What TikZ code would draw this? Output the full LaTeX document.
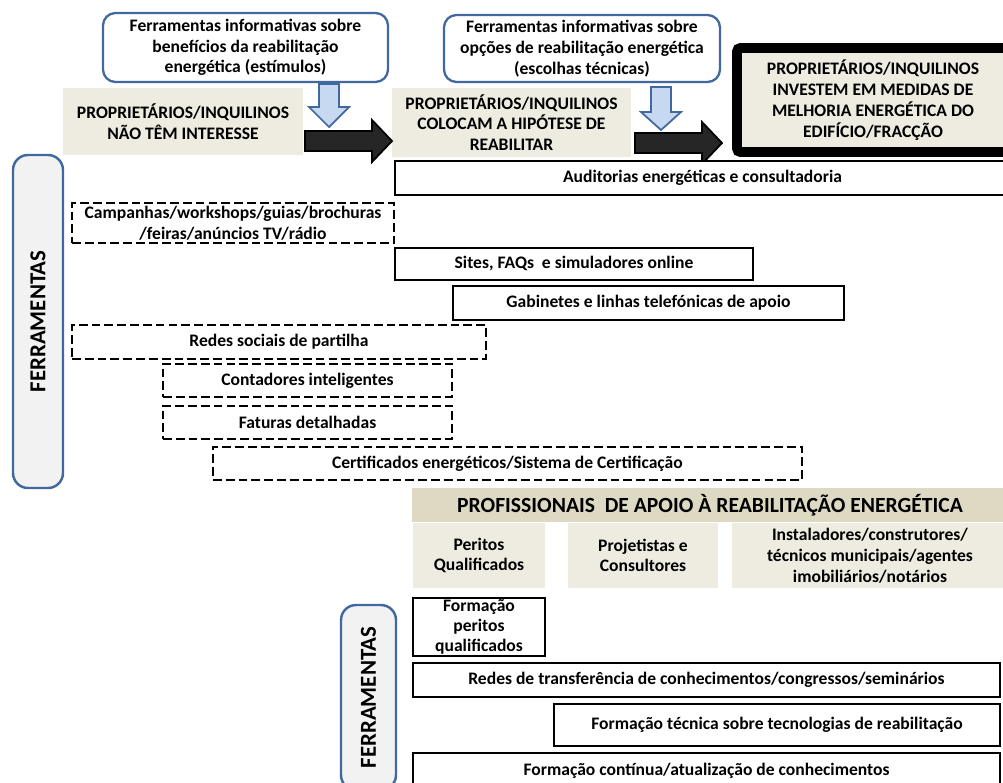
\documentclass[tikz,border=0pt]{standalone}
\usepackage{fontspec}
\setmainfont{Carlito}
\usetikzlibrary{positioning}
\definecolor{beige}{HTML}{EEECE1}
\definecolor{darkbeige}{HTML}{DDD9C3}
\definecolor{boxblue}{RGB}{65,105,160}
\definecolor{lightblue}{HTML}{C6D9F1}
\definecolor{bargray}{HTML}{F2F2F2}
\definecolor{arrowblack}{HTML}{262626}
\newcommand{\pxbox}[7]{ % Takes name, style, left, top, right, bottom (in pixels), text as arguments
    \node[#2, minimum width={(#5-#3)*0.02cm}, minimum height={(#6-#4)*0.02cm}] (#1) at ({(#3+#5)/2}, {(#4+#6)/2}) {#7};
}
\newcommand{\downblockarrow}[4]{ % Takes x centre, top y, head y, tip y as arguments
    \draw[downarrow] ({#1-10},#2) -- ({#1+10},#2) -- ({#1+10},#3) -- ({#1+20},#3) -- (#1,#4) -- ({#1-20},#3) -- ({#1-10},#3) -- cycle;
}
\newcommand{\rightblockarrow}[4]{ % Takes start x, head x, tip x, y centre as arguments
    \draw[rightarrow] (#1,{#4-10}) -- (#2,{#4-10}) -- (#2,{#4-21}) -- (#3,#4) -- (#2,{#4+21}) -- (#2,{#4+10}) -- (#1,{#4+10}) -- cycle;
}

\begin{document}
\begin{tikzpicture}[x=0.02cm, y=-0.02cm,
    every node/.style={font=\bfseries\fontsize{10}{11.8}\selectfont, align=center, inner sep=0pt, outer sep=0pt},
    tanbox/.style={fill=beige},
    infobox/.style={draw=boxblue, fill=white, line width=1.3pt, rounded corners=0.25cm},
    toolbox/.style={draw=black, fill=white, line width=1.6pt},
    dashbox/.style={draw=black, fill=white, line width=1.6pt, dash pattern=on 5pt off 2.3pt},
    sidebar/.style={draw=boxblue, fill=bargray, line width=1.4pt, rounded corners=0.3cm},
    sidetext/.style={rotate=90, font=\bfseries\fontsize{13}{15}\selectfont},
    downarrow/.style={draw=boxblue, fill=lightblue, line width=1pt},
    rightarrow/.style={draw=black, fill=arrowblack, line width=1pt}]

    \fill[white] (0,0) rectangle (1003,782);
    \useasboundingbox (0,0) rectangle (1003,782);

    % Information tools on top
    \pxbox{infoben}{infobox}{103}{13}{388}{82}{Ferramentas informativas sobre\\benefícios da reabilitação\\energética (estímulos)}
    \pxbox{infoopt}{infobox}{444}{15}{720}{82}{Ferramentas informativas sobre\\opções de reabilitação energética\\(escolhas técnicas)}

    % Stages of the owners
    \pxbox{naointeresse}{tanbox}{63}{88}{303}{155}{PROPRIETÁRIOS/INQUILINOS\\NÃO TÊM INTERESSE}
    \pxbox{hipotese}{tanbox}{392}{88}{631}{157}{PROPRIETÁRIOS/INQUILINOS\\COLOCAM A HIPÓTESE DE\\REABILITAR}
    \pxbox{investem}{tanbox, draw=black, line width=5.6pt, rounded corners=2pt}{737}{48}{1009}{152}{PROPRIETÁRIOS/INQUILINOS\\INVESTEM EM MEDIDAS DE\\MELHORIA ENERGÉTICA DO\\EDIFÍCIO/FRACÇÃO}

    % Arrows
    \downblockarrow{329}{84}{107}{127}
    \downblockarrow{661}{87}{112}{130}
    \rightblockarrow{305}{372}{392}{141}
    \rightblockarrow{635}{702}{722}{143}

    % Tools for the owners
    \pxbox{ferramentasA}{sidebar}{13}{155}{63}{488}{}
    \node[sidetext] (ferramentasAtext) at (ferramentasA) {FERRAMENTAS};
    \pxbox{auditorias}{toolbox}{395}{161}{1010}{195}{Auditorias energéticas e consultadoria}
    \pxbox{campanhas}{dashbox}{72}{203}{394}{243}{Campanhas/workshops/guias/brochuras\\/feiras/anúncios TV/rádio}
    \pxbox{sites}{toolbox}{395}{248}{753}{280}{Sites, FAQs\ \ e simuladores online}
    \pxbox{gabinetes}{toolbox}{453}{286}{844}{320}{Gabinetes e linhas telefónicas de apoio}
    \pxbox{redessociais}{dashbox}{72}{325}{486}{359}{Redes sociais de partilha}
    \pxbox{contadores}{dashbox}{163}{364}{452}{397}{Contadores inteligentes}
    \pxbox{faturas}{dashbox}{163}{406}{452}{439}{Faturas detalhadas}
    \pxbox{certificados}{dashbox}{213}{447}{802}{480}{Certificados energéticos/Sistema de Certificação}

    % Professionals
    \pxbox{profissionais}{fill=darkbeige, font=\bfseries\fontsize{12.3}{14}\selectfont}{412}{488}{1008}{522}{PROFISSIONAIS\ \ DE APOIO À REABILITAÇÃO ENERGÉTICA}
    \pxbox{peritos}{tanbox}{413}{523}{545}{588}{Peritos\\Qualificados}
    \pxbox{projetistas}{tanbox}{568}{523}{718}{588}{Projetistas e\\Consultores}
    \pxbox{instaladores}{tanbox}{732}{523}{1008}{588}{Instaladores/construtores/\\técnicos municipais/agentes\\imobiliários/notários}

    % Tools for the professionals
    \pxbox{ferramentasB}{sidebar}{341}{605}{396}{790}{}
    \node[sidetext] (ferramentasBtext) at (ferramentasB) {FERRAMENTAS};
    \pxbox{formperitos}{toolbox}{413}{598}{545}{656}{}
    \node[font=\bfseries\fontsize{10}{11.4}\selectfont] (formperitostext) at (formperitos) {Formação\\peritos\\qualificados};
    \pxbox{redestransf}{toolbox}{413}{663}{1000}{697}{Redes de transferência de conhecimentos/congressos/seminários}
    \pxbox{formtecnica}{toolbox}{554}{704}{1000}{746}{Formação técnica sobre tecnologias de reabilitação}
    \pxbox{formcontinua}{toolbox}{413}{753}{1000}{788}{Formação contínua/atualização de conhecimentos}
\end{tikzpicture}
\end{document}
